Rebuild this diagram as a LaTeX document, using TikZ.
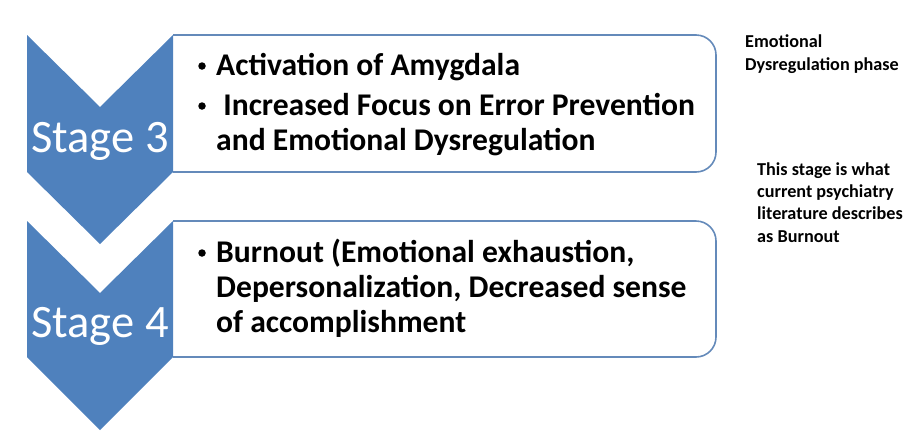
\documentclass[tikz,border=0pt]{standalone}
\usepackage{fontspec}
\setmainfont{Carlito}
\usetikzlibrary{positioning}
\definecolor{stageblue}{RGB}{79,129,189}
\definecolor{boxblue}{RGB}{100,138,186}

\begin{document}
\begin{tikzpicture}[x=1pt, y=-1pt,
        stagetext/.style={text=white, font=\fontsize{46.5}{52}\selectfont, anchor=base},
        itemtext/.style={font=\bfseries\fontsize{31.6}{36}\selectfont, anchor=base west, inner sep=0pt},
        bullet/.style={circle, fill=black, inner sep=0pt, minimum size=7.5pt},
        notetext/.style={font=\bfseries\fontsize{18.2}{22.3}\selectfont, anchor=base west, inner sep=0pt, align=left},
        boxline/.style={draw=boxblue, line width=1.6pt, rounded corners=20pt}]
        \useasboundingbox (0,0) rectangle (920,445);
        % boxes
        \draw[boxline] (173,35) -- (716,35) -- (716,172) -- (173,172);
        \draw[boxline] (173,221) -- (716,221) -- (716,357) -- (173,357);
        % chevrons
        \fill[stageblue] (27,35) -- (100,107) -- (173,35) -- (173,172) -- (100,244) -- (27,172) -- cycle;
        \fill[stageblue] (27,221) -- (100,293) -- (173,221) -- (173,357) -- (100,430) -- (27,357) -- cycle;
        \node[stagetext] (s3) at (100,152) {Stage 3};
        \node[stagetext] (s4) at (100,337) {Stage 4};
        % stage 3 items
        \node[itemtext] (a1) at (216,75) {Activation of Amygdala};
        \node[itemtext] (a2) at (216,115) {\ Increased Focus on Error Prevention};
        \node[itemtext] (a3) at (216,150) {and Emotional Dysregulation};
        \node[bullet] (b1) at (202,66) {};
        \node[bullet] (b2) at (202,106) {};
        % stage 4 items
        \node[itemtext] (c1) at (216,262) {Burnout (Emotional exhaustion,};
        \node[itemtext] (c2) at (216,297) {Depersonalization, Decreased sense};
        \node[itemtext] (c3) at (216,332) {of accomplishment};
        \node[bullet] (b3) at (202,253) {};
        % notes
        \node[notetext] (n3) at (745,70) {Emotional\\Dysregulation phase};
        \node[notetext] (n4) at (757,242) {This stage is what\\current psychiatry\\literature describes\\as Burnout};
    \end{tikzpicture}
\end{document}
